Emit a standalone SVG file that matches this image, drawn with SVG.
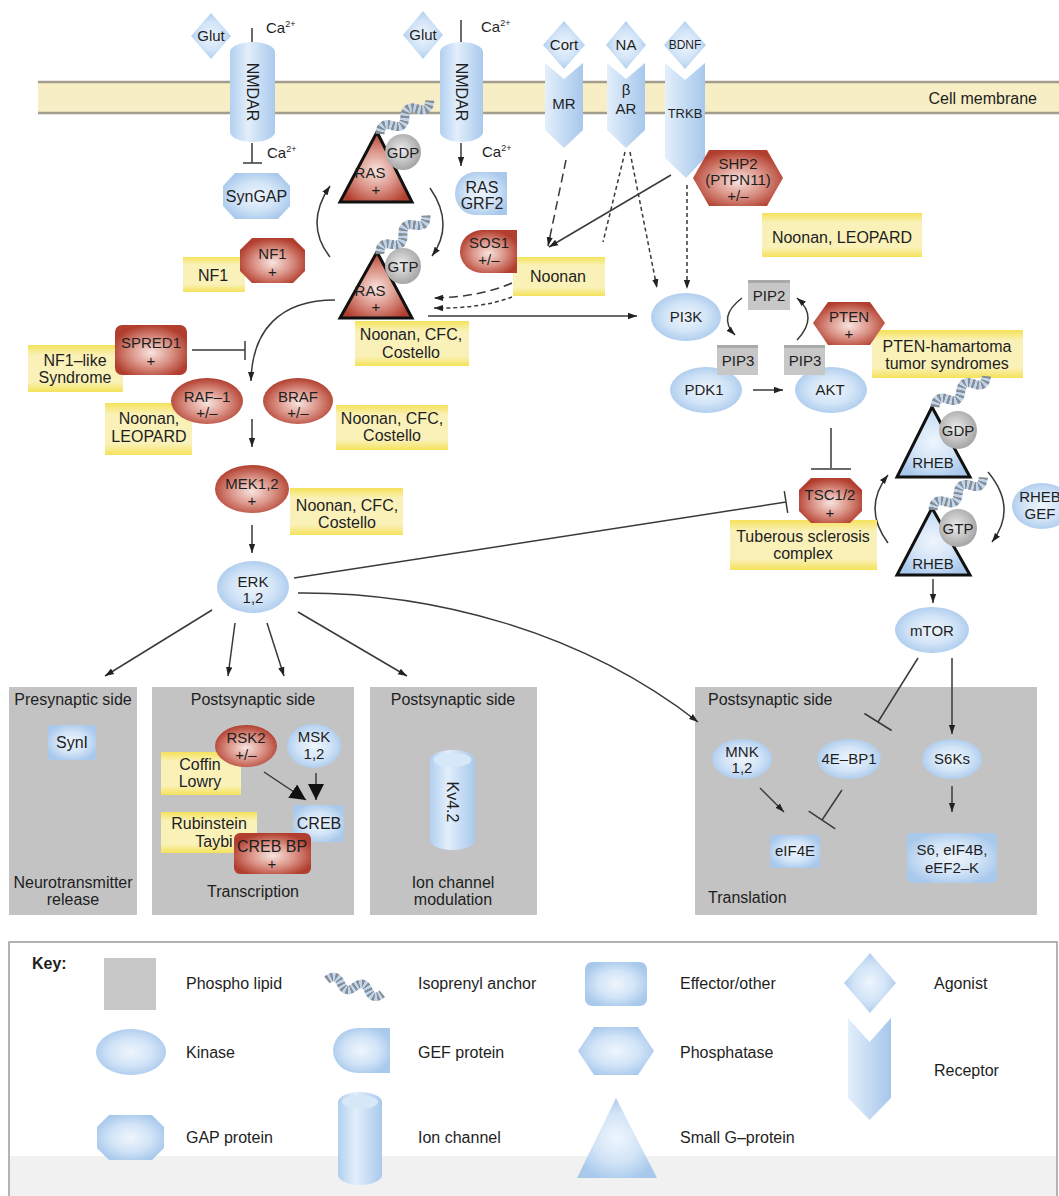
<svg xmlns="http://www.w3.org/2000/svg" width="1059" height="1196" viewBox="0 0 1059 1196">
<defs>
<style>
.t{font-family:"Liberation Sans",Arial,Helvetica,sans-serif;font-size:16px;fill:#1e1e1e;text-anchor:middle}
.s{font-size:15px}
.l{text-anchor:start}
.b{font-weight:bold}
.bl{fill:url(#gBlue)}
.rd{fill:url(#gRed)}
.yw{fill:url(#gYel)}
.gy{fill:url(#gGray)}
.cy{fill:url(#gCyl)}
.rc{fill:url(#gRec)}
.pl{fill:#c7c7c7}
.pan{fill:#c3c3c3}
.c{fill:none;stroke:#3a3a3a;stroke-width:1.5}
.dL{stroke-dasharray:9 5}
.dS{stroke-dasharray:4 3}
.gt{stroke:#111;stroke-width:3;stroke-linejoin:miter}
</style>
<radialGradient id="gBlue" cx="50%" cy="50%" r="55%"><stop offset="0" stop-color="#eef5fd"/><stop offset="0.55" stop-color="#d2e4f7"/><stop offset="1" stop-color="#a9c9ec"/></radialGradient>
<radialGradient id="gRed" cx="50%" cy="55%" r="55%"><stop offset="0" stop-color="#f8e4df"/><stop offset="0.5" stop-color="#dc968a"/><stop offset="1" stop-color="#b13e2e"/></radialGradient>
<radialGradient id="gGray" cx="45%" cy="45%" r="55%"><stop offset="0" stop-color="#ececec"/><stop offset="1" stop-color="#a6a6a6"/></radialGradient>
<linearGradient id="gYel" x1="0" y1="0" x2="0" y2="1"><stop offset="0" stop-color="#f4e25a"/><stop offset="0.22" stop-color="#faf1b8"/><stop offset="0.78" stop-color="#faf1b8"/><stop offset="1" stop-color="#f4e25a"/></linearGradient>
<linearGradient id="gCyl" x1="0" y1="0" x2="1" y2="0"><stop offset="0" stop-color="#b2d0f0"/><stop offset="0.4" stop-color="#e2eefb"/><stop offset="1" stop-color="#a9c9ec"/></linearGradient>
<linearGradient id="gRec" x1="0" y1="0" x2="1" y2="0"><stop offset="0" stop-color="#e4effb"/><stop offset="0.5" stop-color="#c4dbf3"/><stop offset="1" stop-color="#a7c7eb"/></linearGradient>
<marker id="arr" viewBox="0 0 10 10" refX="10" refY="5" markerWidth="9" markerHeight="9" markerUnits="userSpaceOnUse" orient="auto"><path d="M0,1.5 L10,5 L0,8.5 Z" fill="#222"/></marker>
<marker id="arrB" viewBox="0 0 10 10" refX="10" refY="5" markerWidth="16" markerHeight="16" markerUnits="userSpaceOnUse" orient="auto"><path d="M0,0 L10,5 L0,10 Z" fill="#111"/></marker>
<g id="anc">
<path d="M0,0 q7.5,-10 15,0 t15,0 t15,0 t15,0" fill="none" stroke="#878d96" stroke-width="9" stroke-dasharray="2.5 2"/>
<path d="M0,0 q7.5,-10 15,0 t15,0 t15,0 t15,0" fill="none" stroke="#bcd5ef" stroke-width="9" stroke-dasharray="2 2.5" stroke-dashoffset="-2.5"/>
</g>
</defs>

<rect x="0" y="0" width="1059" height="1196" fill="#ffffff"/>

<g id="membrane">
<rect x="38" y="82" width="1021" height="31" fill="#f7eec5"/>
<line x1="38" y1="82" x2="1059" y2="82" stroke="#a29d8d" stroke-width="2.5"/>
<line x1="38" y1="113" x2="1059" y2="113" stroke="#a29d8d" stroke-width="2.5"/>
<text x="1037" y="104" class="t" style="text-anchor:end">Cell membrane</text>
</g>

<g id="panel-presynaptic"><rect x="9" y="687" width="128" height="228" class="pan"/>
<text x="73" y="705" class="t">Presynaptic side</text>
<text x="73" y="888" class="t">Neurotransmitter</text><text x="73" y="905" class="t">release</text></g>
<g id="panel-transcription"><rect x="152" y="687" width="202" height="228" class="pan"/>
<text x="253" y="705" class="t">Postsynaptic side</text>
<text x="253" y="897" class="t">Transcription</text></g>
<g id="panel-ion"><rect x="370" y="687" width="167" height="228" class="pan"/>
<text x="453" y="705" class="t">Postsynaptic side</text>
<text x="453" y="888" class="t">Ion channel</text><text x="453" y="905" class="t">modulation</text></g>
<g id="panel-translation"><rect x="695" y="687" width="342" height="228" class="pan"/>
<text x="708" y="705" class="t l">Postsynaptic side</text>
<text x="708" y="903" class="t l">Translation</text></g>

<g id="connectors">
<path class="c" d="M252,28 L252,42"/>
<path class="c" d="M252,143 L252,163 M243,163 L262,163"/>
<path class="c" d="M461,20 L461,42"/>
<path class="c" d="M461,143 L461,166" marker-end="url(#arr)"/>
<path class="c" d="M330,257 Q304,224 330,186" marker-end="url(#arr)"/>
<path class="c" d="M430,188 Q455,224 432,256" marker-end="url(#arr)"/>
<path class="c dL" d="M566,160 L548,246" marker-end="url(#arr)"/>
<path class="c" d="M671,175 L549,247" marker-end="url(#arr)"/>
<path class="c dS" d="M625,152 L603,242"/>
<path class="c dS" d="M630,152 L657,288" marker-end="url(#arr)"/>
<path class="c dS" d="M687,185 L687,289" marker-end="url(#arr)"/>
<path class="c dL" d="M512,283 Q480,297 434,298" marker-end="url(#arr)"/>
<path class="c dS" d="M512,297 Q480,309 434,308" marker-end="url(#arr)"/>
<path class="c" d="M428,316 L637,316" marker-end="url(#arr)"/>
<path class="c" d="M335,300 C280,300 252,330 251,381" marker-end="url(#arr)"/>
<path class="c" d="M192,350 L245,350 M245,341 L245,360"/>
<path class="c" d="M252,419 L252,447" marker-end="url(#arr)"/>
<path class="c" d="M252,525 L252,553" marker-end="url(#arr)"/>
<path class="c" d="M294,578 L786,502 M784.3,491.1 L787.7,512.9"/>
<path class="c" d="M212,610 L105,676" marker-end="url(#arr)"/>
<path class="c" d="M235,623 L228,676" marker-end="url(#arr)"/>
<path class="c" d="M267,623 L284,676" marker-end="url(#arr)"/>
<path class="c" d="M298,612 L407,676" marker-end="url(#arr)"/>
<path class="c" d="M298,593 C430,592 580,630 698,722" marker-end="url(#arr)"/>
<path class="c" d="M742,298 Q717,317 735,335" marker-end="url(#arr)"/>
<path class="c" d="M797,340 Q819,317 797,298" marker-end="url(#arr)"/>
<path class="c" d="M753,390 L783,390" marker-end="url(#arr)"/>
<path class="c" d="M831,428 L831,468 M811,469 L851,469"/>
<path class="c" d="M888,543 Q862,508 888,475" marker-end="url(#arr)"/>
<path class="c" d="M988,472 Q1018,508 992,542" marker-end="url(#arr)"/>
<path class="c" d="M933,579 L933,603" marker-end="url(#arr)"/>
<path class="c" d="M918,658 L878,722 M864.4,713.5 L891.6,730.5"/>
<path class="c" d="M952,658 L952,734" marker-end="url(#arr)"/>
<path class="c" d="M760,788 L784,812" marker-end="url(#arr)"/>
<path class="c" d="M842,790 L822,820 M808.7,811.1 L835.3,828.9"/>
<path class="c" d="M952,786 L952,812" marker-end="url(#arr)"/>
<path class="c" d="M264,772 L306,800" marker-end="url(#arrB)"/>
<path class="c" d="M316,773 L316,800" marker-end="url(#arrB)"/>
</g>

<g id="glut1"><polygon points="211,13 231,36 211,59 191,36" class="bl"/><text x="211" y="41" class="t s">Glut</text></g>
<g id="nmdar1"><path d="M230,52 A22.5,10 0 0 1 275,52 L275,132 A22.5,10 0 0 1 230,132 Z" class="cy"/><text transform="translate(252.5,92) rotate(90)" y="5.5" class="t">NMDAR</text></g>
<g id="ca1"><text x="266" y="33" class="t s l">Ca<tspan dy="-6" font-size="9">2+</tspan></text><text x="267" y="158" class="t s l">Ca<tspan dy="-6" font-size="9">2+</tspan></text></g>
<g id="syngap"><polygon points="235,173 278,173 290,186 290,206 278,219 235,219 223,206 223,186" class="bl"/><text x="256.5" y="202" class="t">SynGAP</text></g>
<g id="nf1-label"><rect x="183" y="257" width="62" height="35" class="yw"/><text x="213" y="281" class="t">NF1</text></g>
<g id="nf1"><polygon points="252,238 293,238 305,250 305,271 293,283 252,283 240,271 240,250" class="rd"/><text x="272.5" y="259" class="t s">NF1</text><text x="272.5" y="277" class="t s">+</text></g>

<g id="glut2"><polygon points="423,11 443,35 423,59 403,35" class="bl"/><text x="423" y="40" class="t s">Glut</text></g>
<g id="nmdar2"><path d="M440,52 A21.5,10 0 0 1 483,52 L483,132 A21.5,10 0 0 1 440,132 Z" class="cy"/><text transform="translate(461.5,92) rotate(90)" y="5.5" class="t">NMDAR</text></g>
<g id="ca2"><text x="481" y="32" class="t s l">Ca<tspan dy="-6" font-size="9">2+</tspan></text><text x="482" y="157" class="t s l">Ca<tspan dy="-6" font-size="9">2+</tspan></text></g>
<g id="rasgrf2"><path d="M475,172 L507,172 L507,215 L475,215 A20,21.5 0 0 1 475,172 Z" class="bl"/><text x="482" y="193" class="t">RAS</text><text x="482" y="209" class="t">GRF2</text></g>

<g id="cort"><polygon points="564,21 585,45 564,69 543,45" class="bl"/><text x="564" y="50" class="t s">Cort</text></g>
<g id="mr"><path d="M545,63 L564,79 L583,63 L583,130 L564,148 L545,130 Z" class="rc"/><text x="564" y="109" class="t s">MR</text></g>
<g id="na"><polygon points="626,21 646,45 626,69 606,45" class="bl"/><text x="626" y="50" class="t s">NA</text></g>
<g id="bar"><path d="M607,63 L626,79 L645,63 L645,130 L626,148 L607,130 Z" class="rc"/><text x="626" y="95" class="t s">β</text><text x="626" y="114" class="t s">AR</text></g>
<g id="bdnf"><polygon points="685,21 706,45 685,69 664,45" class="bl"/><text x="685" y="49" class="t" style="font-size:12px">BDNF</text></g>
<g id="trkb"><path d="M665,63 L685,80 L705,63 L705,158 L686,178 L665,158 Z" class="rc"/><text x="685" y="118" class="t" style="font-size:13px">TRKB</text></g>

<g id="shp2"><polygon points="693,178 709,150 767,150 783,178 767,206 709,206" class="rd"/><text x="738" y="169" class="t s">SHP2</text><text x="738" y="185" class="t s">(PTPN11)</text><text x="738" y="201" class="t s">+/–</text></g>
<g id="noonan-leopard-1"><rect x="762" y="213" width="160" height="44" class="yw"/><text x="842" y="243" class="t">Noonan, LEOPARD</text></g>

<g id="ras-gdp">
<polygon points="377,132 412,202 340,202" class="rd gt"/>
<use href="#anc" transform="translate(380,134) rotate(-34)"/>
<circle cx="403" cy="152" r="18" class="gy"/>
<text x="403" y="157.5" class="t s">GDP</text>
<text x="370" y="178" class="t s">RAS</text><text x="376" y="195" class="t s">+</text>
</g>
<g id="ras-gtp">
<polygon points="377,252 412,318 340,318" class="rd gt"/>
<use href="#anc" transform="translate(380,254) rotate(-40)"/>
<circle cx="403" cy="266" r="18" class="gy"/>
<text x="403" y="271.5" class="t s">GTP</text>
<text x="370" y="296" class="t s">RAS</text><text x="376" y="312" class="t s">+</text>
</g>
<g id="noonan-label"><rect x="513" y="257" width="92" height="39" class="yw"/><text x="558" y="282" class="t">Noonan</text></g>
<g id="sos1"><path d="M482,230 L517,230 L517,273 L482,273 A22,21.5 0 0 1 482,230 Z" class="rd"/><text x="489" y="248" class="t s">SOS1</text><text x="489" y="265" class="t s">+/–</text></g>
<g id="ras-disease"><rect x="355" y="321" width="114" height="45" class="yw"/><text x="411" y="340" class="t">Noonan, CFC,</text><text x="411" y="358" class="t">Costello</text></g>

<g id="pi3k"><ellipse cx="686" cy="317" rx="35" ry="24" class="bl"/><text x="686" y="322" class="t s">PI3K</text></g>
<g id="pip2"><rect x="748" y="280" width="42" height="30" class="pl"/><rect x="748" y="280" width="42" height="3" fill="#a9a9a9"/><text x="769" y="301" class="t s">PIP2</text></g>
<g id="pdk1"><ellipse cx="706" cy="390" rx="36" ry="23" class="bl"/><text x="704" y="395" class="t s">PDK1</text></g>
<g id="akt"><ellipse cx="831" cy="390" rx="36" ry="23" class="bl"/><text x="830" y="395" class="t s">AKT</text></g>
<g id="pip3-a"><rect x="717" y="345" width="41" height="30" class="pl"/><rect x="717" y="345" width="41" height="3" fill="#a9a9a9"/><text x="738" y="366" class="t s">PIP3</text></g>
<g id="pip3-b"><rect x="784" y="345" width="41" height="30" class="pl"/><rect x="784" y="345" width="41" height="3" fill="#a9a9a9"/><text x="805" y="366" class="t s">PIP3</text></g>
<g id="pten-label"><rect x="872" y="330" width="151" height="48" class="yw"/><text x="947" y="352" class="t">PTEN-hamartoma</text><text x="947" y="369" class="t">tumor syndromes</text></g>
<g id="pten"><polygon points="813,323 828,302 870,302 885,323 870,345 828,345" class="rd"/><text x="849" y="322" class="t s">PTEN</text><text x="849" y="339" class="t s">+</text></g>

<g id="tsc-label"><rect x="730" y="520" width="147" height="50" class="yw"/><text x="803" y="542" class="t">Tuberous sclerosis</text><text x="803" y="559" class="t">complex</text></g>
<g id="tsc"><polygon points="811,478 850,478 862,490 862,511 850,523 811,523 799,511 799,490" class="rd"/><text x="830" y="500" class="t s">TSC1/2</text><text x="830" y="518" class="t s">+</text></g>

<g id="rheb-gdp">
<polygon points="932,407 970,477 897,477" class="bl gt"/>
<use href="#anc" transform="translate(935,407) rotate(-31)"/>
<circle cx="958" cy="430" r="19" class="gy"/>
<text x="958" y="435.5" class="t s">GDP</text>
<text x="933" y="468" class="t s">RHEB</text>
</g>
<g id="rheb-gtp">
<polygon points="932,508 970,575 897,575" class="bl gt"/>
<use href="#anc" transform="translate(933,510) rotate(-33)"/>
<circle cx="958" cy="528" r="19" class="gy"/>
<text x="958" y="533.5" class="t s">GTP</text>
<text x="933" y="569" class="t s">RHEB</text>
</g>
<g id="rheb-gef"><ellipse cx="1042" cy="506" rx="30" ry="23" class="bl"/><text x="1040" y="502" class="t s">RHEB</text><text x="1040" y="519" class="t s">GEF</text></g>
<g id="mtor"><ellipse cx="932" cy="630" rx="37" ry="23" class="bl"/><text x="932" y="636" class="t s">mTOR</text></g>

<g id="spred1-label"><rect x="28" y="345" width="95" height="47" class="yw"/><text x="75" y="366" class="t">NF1–like</text><text x="75" y="383" class="t">Syndrome</text></g>
<g id="spred1"><rect x="115" y="325" width="72" height="50" rx="7" class="rd"/><text x="151" y="348" class="t s">SPRED1</text><text x="151" y="366" class="t s">+</text></g>
<g id="raf1-label"><rect x="105" y="403" width="87" height="52" class="yw"/><text x="149" y="424" class="t">Noonan,</text><text x="149" y="442" class="t">LEOPARD</text></g>
<g id="raf1"><ellipse cx="207" cy="401" rx="36" ry="23" class="rd"/><text x="207" y="402" class="t s">RAF–1</text><text x="207" y="418" class="t s">+/–</text></g>
<g id="braf"><ellipse cx="298" cy="401" rx="35" ry="23" class="rd"/><text x="298" y="402" class="t s">BRAF</text><text x="298" y="418" class="t s">+/–</text></g>
<g id="braf-label"><rect x="336" y="405" width="112" height="45" class="yw"/><text x="392" y="424" class="t">Noonan, CFC,</text><text x="392" y="441" class="t">Costello</text></g>
<g id="mek"><ellipse cx="252" cy="489" rx="37" ry="24" class="rd"/><text x="252" y="489" class="t s">MEK1,2</text><text x="252" y="506" class="t s">+</text></g>
<g id="mek-label"><rect x="290" y="488" width="113" height="47" class="yw"/><text x="347" y="511" class="t">Noonan, CFC,</text><text x="347" y="528" class="t">Costello</text></g>
<g id="erk"><ellipse cx="253" cy="587" rx="36" ry="26" class="bl"/><text x="253" y="587" class="t s">ERK</text><text x="253" y="603" class="t s">1,2</text></g>

<g id="syn1"><rect x="48" y="725" width="48" height="35" rx="3" class="bl"/><text x="72" y="748" class="t">SynI</text></g>
<g id="coffin-label"><rect x="161" y="752" width="80" height="43" class="yw"/><text x="200" y="770" class="t">Coffin</text><text x="200" y="787" class="t">Lowry</text></g>
<g id="rsk2"><ellipse cx="246" cy="746" rx="31" ry="21" class="rd"/><text x="246" y="743" class="t s">RSK2</text><text x="246" y="760" class="t s">+/–</text></g>
<g id="msk"><ellipse cx="314" cy="746" rx="27" ry="22" class="bl"/><text x="314" y="742" class="t s">MSK</text><text x="314" y="759" class="t s">1,2</text></g>
<g id="creb"><rect x="293" y="805" width="51" height="37" rx="4" class="bl"/><text x="319" y="829" class="t">CREB</text></g>
<g id="rubinstein-label"><rect x="161" y="812" width="96" height="41" class="yw"/><text x="209" y="829" class="t">Rubinstein</text><text x="214" y="847" class="t">Taybi</text></g>
<g id="crebbp"><rect x="234" y="833" width="77" height="41" rx="6" class="rd"/><text x="272" y="852" class="t">CREB BP</text><text x="272" y="869" class="t s">+</text></g>

<g id="kv42"><path d="M430,760 A22.5,10 0 0 1 475,760 L475,840 A22.5,10 0 0 1 430,840 Z" class="cy"/><ellipse cx="452.5" cy="760" rx="19" ry="7" fill="#d6e7f8"/><text transform="translate(452.5,802) rotate(90)" y="5.5" class="t">Kv4.2</text></g>

<g id="mnk"><ellipse cx="742" cy="759" rx="30" ry="20" class="bl"/><text x="742" y="757" class="t s">MNK</text><text x="742" y="773" class="t s">1,2</text></g>
<g id="4ebp1"><ellipse cx="849" cy="759" rx="32" ry="20" class="bl"/><text x="849" y="764" class="t s">4E–BP1</text></g>
<g id="s6ks"><ellipse cx="952" cy="759" rx="30" ry="20" class="bl"/><text x="952" y="764" class="t s">S6Ks</text></g>
<g id="eif4e"><rect x="770" y="835" width="50" height="33" rx="3" class="bl"/><text x="795" y="856" class="t s">eIF4E</text></g>
<g id="s6"><rect x="907" y="833" width="90" height="50" rx="5" class="bl"/><text x="952" y="855" class="t s">S6, eIF4B,</text><text x="952" y="873" class="t s">eEF2–K</text></g>

<g id="key">
<rect x="9" y="942" width="1048" height="256" fill="#ffffff" stroke="#9a9a9a" stroke-width="1.5"/>
<rect x="10" y="1156" width="1046" height="40" fill="#f1f1f1"/>
<text x="32" y="969" class="t l b">Key:</text>
<rect x="104" y="958" width="52" height="52" class="pl"/>
<text x="186" y="989" class="t l">Phospho lipid</text>
<use href="#anc" transform="translate(327,980) rotate(14) scale(0.95)"/>
<text x="418" y="989" class="t l">Isoprenyl anchor</text>
<rect x="585" y="962" width="62" height="44" rx="7" class="bl"/>
<text x="680" y="989" class="t l">Effector/other</text>
<polygon points="870,953 896,983 870,1013 844,983" class="bl"/>
<text x="934" y="989" class="t l">Agonist</text>
<ellipse cx="131" cy="1052" rx="35" ry="23" class="bl"/>
<text x="186" y="1058" class="t l">Kinase</text>
<path d="M358,1028 L390,1028 L390,1073 L358,1073 A25,22.5 0 0 1 358,1028 Z" class="bl"/>
<text x="418" y="1058" class="t l">GEF protein</text>
<polygon points="578,1051 594,1027 638,1027 654,1051 638,1075 594,1075" class="bl"/>
<text x="680" y="1058" class="t l">Phosphatase</text>
<path d="M848,1018 L869.5,1042 L891,1018 L891,1098 L869.5,1120 L848,1098 Z" class="rc"/>
<text x="934" y="1076" class="t l">Receptor</text>
<polygon points="109,1115 152,1115 164,1127 164,1148 152,1160 109,1160 97,1148 97,1127" class="bl"/>
<text x="186" y="1143" class="t l">GAP protein</text>
<path d="M338,1102 A22,10 0 0 1 382,1102 L382,1175 A22,10 0 0 1 338,1175 Z" class="cy"/>
<ellipse cx="360" cy="1102" rx="18" ry="7" fill="#d6e7f8"/>
<text x="418" y="1143" class="t l">Ion channel</text>
<polygon points="616,1098 657,1178 577,1178" class="bl"/>
<text x="680" y="1143" class="t l">Small G–protein</text>
</g>
</svg>
